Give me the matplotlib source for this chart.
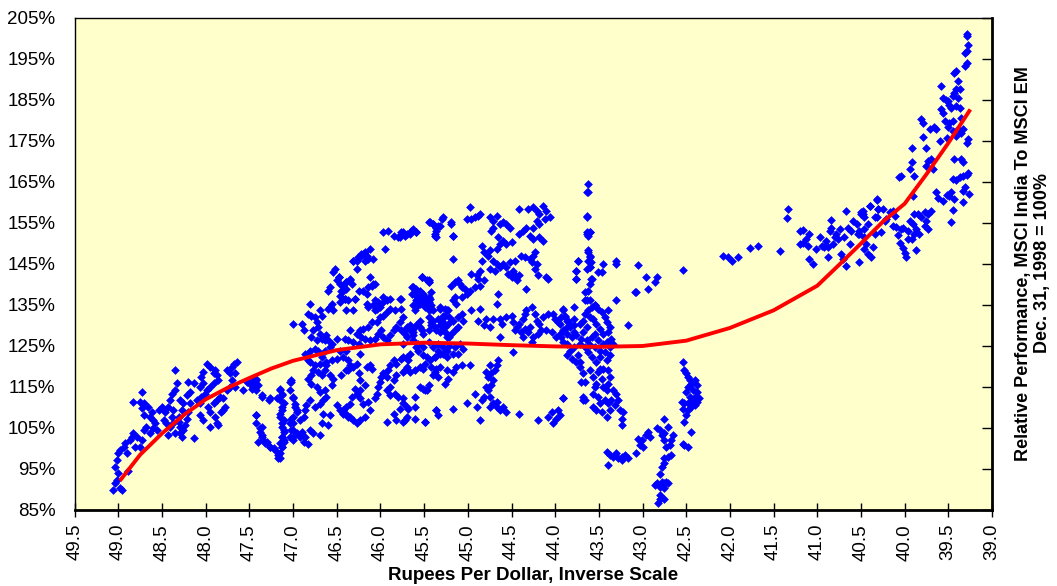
import numpy as np
import matplotlib
matplotlib.use("Agg")
import matplotlib.pyplot as plt
from matplotlib.ticker import FuncFormatter, MultipleLocator

plt.rcParams['font.family'] = ['Liberation Sans', 'DejaVu Sans']

# rupees per dollar vs relative performance (%)
pts_49_47 = [
  (49.06,89.9),(49.04,91.5),(48.98,90.3),(48.96,89.9),(49.02,92.3),(49.00,94.0),(49.04,95.6),
  (49.02,97.2),(49.00,98.8),(48.98,99.6),(48.94,100.4),(48.90,98.8),(48.89,94.4),(48.92,101.3),
  (48.87,102.1),(48.85,102.9),(48.83,103.7),(48.79,102.9),(48.81,100.4),(48.75,100.4),(48.73,102.1),
  (48.71,104.5),(48.68,105.3),(48.64,103.7),(48.60,104.9),(48.58,106.1),(48.56,104.5),(48.64,107.7),
  (48.71,108.2),(48.73,109.8),(48.71,111.0),(48.66,110.2),(48.62,109.0),(48.60,106.9),(48.83,111.4),
  (48.75,111.4),(48.73,113.8),(48.54,109.4),(48.50,110.2),(48.47,109.0),(48.48,106.9),(48.45,106.1),
  (48.43,103.3),(48.41,105.3),(48.39,107.7),(48.43,110.2),(48.41,111.8),(48.39,113.4),(48.35,114.2),
  (48.33,115.9),(48.35,119.1),(48.29,111.8),(48.26,111.0),(48.27,109.4),(48.31,107.7),(48.29,105.3),
  (48.26,104.5),(48.24,105.7),(48.22,107.3),(48.27,102.9),(48.29,103.7),(48.35,103.7),(48.37,106.1),
  (48.31,106.5),(48.37,109.4),(48.20,109.0),(48.18,111.0),(48.22,113.0),(48.18,113.8),(48.20,116.3),
  (48.14,115.9),(48.14,102.5),(48.10,111.8),(48.07,111.0),(48.05,112.6),(48.07,115.0),(48.03,115.9),
  (48.05,117.5),(48.03,118.7),(47.99,120.7),(47.95,119.9),(47.91,118.3),(47.89,119.1),(47.87,117.9),
  (47.86,116.7),(47.91,115.9),(47.95,115.0),(47.99,114.2),(48.01,113.4),(48.07,108.2),(48.03,106.9),
  (47.97,110.2),(47.95,109.0),(47.91,111.0),(47.87,111.8),(47.84,112.6),(47.80,112.2),(47.78,110.2),
  (47.82,109.0),(47.89,107.7),(47.87,106.1),(47.95,105.3),(47.86,105.7),(47.80,109.4),(47.76,119.1),
  (47.72,118.3),(47.70,119.9),(47.68,120.7),(47.64,121.1),(47.66,118.3),(47.70,116.7),(47.72,115.0),
  (47.76,114.2),(47.66,115.0),(47.57,114.2),(47.53,116.3),(47.49,116.7),(47.45,115.9),(47.43,114.2),
  (47.42,116.7),(47.40,115.4),(47.36,113.0),(47.42,108.2),(47.38,104.9),(47.36,103.3),(47.34,102.1),
  (47.32,101.3),(47.30,101.7),(47.26,100.4),(47.22,100.0),(47.17,98.4),(47.15,97.6),(47.13,100.4),
  (47.28,111.8),(47.19,112.2),(47.15,114.2),(47.13,113.4),(47.11,111.0),(47.13,109.4),(47.15,107.7),
  (47.13,106.1),(47.11,104.5),(47.13,102.9),(47.11,102.1),(47.15,101.3),(47.02,116.3),(47.00,112.2),
  (46.98,110.2),(46.96,109.0),(47.02,107.3),(47.00,106.1),(47.03,104.5),(47.00,102.9),
]

pts_47_45 = [
  (46.27,145.8),(46.24,146.6),(46.20,147.4),(46.16,147.0),(46.14,146.2),(46.18,145.8),(46.31,145.8),
  (46.52,143.8),(46.54,143.0),(46.48,141.8),(46.50,141.0),(46.46,140.2),(46.43,139.7),(46.39,140.6),
  (46.35,141.4),(46.33,140.2),(46.39,138.9),(46.45,138.5),(46.46,137.3),(46.41,136.5),(46.37,136.1),
  (46.58,139.3),(46.60,138.5),(46.56,135.3),(46.58,134.5),(46.54,133.7),(46.60,134.1),(46.46,135.7),
  (46.29,136.5),(46.25,138.5),(46.16,137.7),(46.06,140.2),(46.10,139.7),(46.16,135.3),(46.14,134.5),
  (46.08,134.9),(46.04,134.1),(46.03,135.7),(46.06,136.1),(45.97,136.9),(45.93,136.1),(45.89,136.5),
  (45.83,133.7),(45.93,133.3),(45.97,132.4),(46.01,132.0),(46.04,130.8),(46.10,130.8),(46.14,129.6),
  (46.20,129.2),(46.24,128.8),(46.27,128.0),(46.35,128.8),(46.37,126.4),(46.31,126.0),(46.25,125.5),
  (46.22,127.2),(46.18,126.8),(46.12,126.4),(46.06,126.8),(46.03,128.0),(45.99,128.8),(45.97,127.2),
  (45.93,126.4),(45.89,127.6),(45.85,128.8),(45.82,129.6),(45.76,128.8),(45.72,128.0),(45.70,129.6),
  (45.66,128.8),(45.63,129.2),(45.59,130.0),(45.55,131.2),(45.53,128.8),(45.51,128.0),(45.63,127.6),
  (45.74,132.0),(45.78,130.8),(45.44,132.0),(45.42,130.8),(45.38,129.6),(45.36,128.8),(45.32,130.0),
  (45.30,131.2),(45.26,132.4),(45.24,133.7),(45.32,134.1),(45.28,128.8),(45.24,128.0),(45.22,127.2),
  (45.51,136.1),(45.49,135.3),(45.45,136.9),(45.44,135.7),(45.42,134.1),(45.47,134.5),(45.53,137.7),
  (45.55,136.5),(45.59,137.3),(45.63,139.3),(45.53,141.8),(45.45,140.6),(45.42,138.1),(45.57,134.9),
  (46.81,135.3),(46.83,132.9),(46.79,132.4),(46.75,132.0),(46.73,130.8),(46.71,129.6),(46.77,128.8),
  (46.79,127.2),(46.73,126.4),(46.69,128.0),(46.67,126.8),(46.62,127.6),(46.60,126.4),(46.58,124.7),
  (46.64,123.9),(46.67,122.3),(46.71,123.9),(46.75,124.3),(46.81,123.9),(46.83,121.5),(46.86,123.1),
  (46.88,128.8),(47.00,130.4),(46.90,130.4),(46.69,133.7),(46.67,132.4),(46.64,126.4),(46.56,125.5),
  (46.50,126.8),(46.41,126.8),(46.46,123.9),(46.39,123.9),(46.43,122.3),(46.37,121.5),(46.35,120.3),
  (46.37,119.1),(46.31,119.9),(46.27,120.7),(46.24,123.1),(46.25,118.3),(46.16,119.9),(46.12,120.3),
  (46.10,119.5),(46.24,116.6),(46.18,115.4),(46.24,114.2),(46.27,113.4),(46.33,112.6),(46.35,110.9),
  (46.39,110.1),(46.43,109.3),(46.39,108.5),(46.35,107.7),(46.31,106.9),(46.27,106.1),(46.24,106.9),
  (46.18,107.7),(46.12,109.3),(46.14,111.4),(46.20,110.9),(46.06,112.2),(46.04,113.4),(46.03,115.0),
  (46.01,116.2),(45.99,117.4),(45.97,118.3),(45.93,117.4),(45.91,119.1),(45.89,120.3),(45.85,121.5),
  (45.82,120.7),(45.76,121.9),(45.70,122.3),(45.66,123.1),(45.70,119.9),(45.74,118.7),(45.82,117.9),
  (45.85,116.6),(45.89,115.0),(45.93,114.2),(45.89,113.0),(45.83,113.4),(45.80,112.6),(45.74,112.2),
  (45.70,110.1),(45.78,109.7),(45.85,108.5),(45.82,106.9),(45.74,106.5),(45.93,106.5),(45.70,107.7),
  (45.61,107.3),(45.49,106.5),(45.61,112.6),(45.55,115.0),(45.49,114.2),(45.44,115.4),(45.51,119.5),
  (45.42,119.9),(45.36,119.5),(45.34,117.4),(45.36,109.3),(45.34,108.1),(45.59,124.7),(45.57,123.9),
  (45.51,122.7),(45.47,122.3),(45.38,122.3),(45.34,123.9),(45.28,123.1),(45.24,122.3),(47.04,114.2),
  (47.04,116.2),(47.15,114.6),(47.13,113.0),(47.15,111.8),(47.13,110.1),(47.15,108.5),(47.11,106.9),
  (47.13,105.3),(47.11,104.1),(47.13,102.8),(47.11,101.6),(47.13,100.4),(47.15,98.8),(47.17,97.6),
  (47.21,99.6),(47.26,100.4),(47.32,101.6),(47.36,102.8),(47.38,104.1),(47.36,105.3),(47.42,106.1),
  (47.40,101.6),(47.42,108.1),(47.36,112.6),(47.26,112.2),(47.00,112.6),(46.98,110.9),(46.96,109.3),
  (47.00,107.7),(47.04,106.1),(47.00,104.5),(47.04,102.8),(47.00,102.0),(46.96,103.7),(46.92,102.8),
  (46.90,104.1),(46.86,102.8),(46.83,101.2),(46.88,101.6),(46.92,106.9),(46.88,107.7),(46.86,109.3),
  (46.85,110.5),(46.81,111.8),(46.75,110.1),(46.69,110.9),(46.66,111.8),(46.62,112.6),(46.64,114.2),
  (46.69,113.8),(46.73,115.0),(46.79,115.8),(46.83,117.0),(46.79,117.9),(46.77,119.1),(46.71,118.7),
  (46.67,117.9),(46.56,115.4),(46.66,108.5),(46.58,108.1),(46.67,106.1),(46.60,105.7),(46.69,103.3),
  (46.77,103.7),(46.81,104.5),(46.50,110.5),(46.46,109.3),(46.43,108.5),(46.37,107.7),(46.29,114.6),
  (46.24,112.2),(46.45,117.9),(46.39,119.1),(46.54,117.0),(46.58,117.9),(47.49,115.8),(47.46,116.6),
  (47.42,117.0),(47.44,115.4),(47.47,114.6),(47.02,116.6),(46.81,121.1),(46.75,120.3),(46.69,120.7),
  (46.62,121.1),(46.56,121.5),(46.50,121.9),(46.62,120.3),(46.64,119.1),
  (45.97,152.7),(45.91,153.1),(45.85,151.9),(45.80,151.5),(45.76,152.7),(45.72,151.9),(45.66,152.3),
  (45.65,153.1),(45.59,152.7),(45.44,155.2),(45.40,154.7),(45.34,154.3),(45.36,153.1),(45.38,151.9),
  (45.30,156.0),(45.19,154.7),(45.17,151.9),(45.95,148.7),(46.31,145.8),(46.26,146.6),(46.22,147.4),
  (46.18,147.9),(46.12,148.7),(46.16,146.2),(46.08,146.2),(46.27,143.8),(46.12,141.8),(46.08,140.2),
  (46.14,139.4),(46.35,141.0),(46.39,140.6),(46.47,141.8),(46.43,138.5),(46.41,136.5),(46.29,136.5),
  (46.20,138.5),(46.31,133.7),(46.39,133.7),(45.53,141.8),(45.45,141.0),(45.64,139.4),(45.59,138.1),
  (45.51,137.7),(45.45,136.5),(45.47,134.9),(45.53,135.7),(45.78,136.5),(45.76,134.1),(45.89,134.1),
  (45.97,135.7),(46.01,134.5),(46.06,133.7),
]

pts_45_43 = [
  (43.64,162.5),(43.64,156.8),(43.64,152.3),(43.60,152.7),(43.62,147.9),(43.60,146.6),(43.59,145.4),
  (43.60,144.2),(43.74,145.8),(43.76,143.4),(43.76,141.4),(43.59,141.4),(43.62,138.5),(43.66,136.1),
  (43.60,136.1),(43.55,134.9),(43.51,143.0),(44.98,158.8),(44.88,156.8),(44.92,156.4),(44.96,156.0),
  (45.01,156.0),(44.86,157.2),(45.28,156.4),(45.43,155.2),(45.40,154.8),(45.36,153.9),(45.32,154.3),
  (45.38,152.3),(45.36,151.5),(45.19,155.2),(45.17,151.9),(45.63,153.5),(45.59,152.7),(45.74,152.7),
  (45.70,152.3),(45.78,151.5),(44.42,158.4),(44.31,158.4),(44.25,158.8),(44.21,158.0),(44.18,157.2),
  (44.14,159.2),(44.10,158.0),(44.06,156.4),(44.12,156.0),(44.18,154.8),(44.21,155.6),(44.25,153.9),
  (44.33,153.9),(44.37,153.1),(44.41,152.3),(44.29,151.9),(44.25,151.1),(44.18,151.5),(44.14,150.7),
  (44.75,156.4),(44.71,155.6),(44.67,156.8),(44.63,154.8),(44.60,155.2),(44.56,154.8),(44.52,153.9),
  (44.71,153.9),(44.73,153.1),(44.65,151.5),(44.60,150.7),(44.56,149.9),(44.50,150.3),(44.63,149.9),
  (44.67,148.7),(44.84,149.5),(44.81,147.9),(44.77,147.0),(44.75,148.3),(44.84,145.8),(44.71,145.8),
  (44.67,145.0),(44.63,144.2),(44.69,143.4),(44.75,143.8),(44.60,145.0),(44.56,144.2),(44.54,142.6),
  (44.50,141.8),(44.46,142.2),(44.44,141.0),(44.42,142.2),(44.48,143.4),(44.52,145.4),(44.46,145.8),
  (44.39,147.0),(44.35,146.6),(44.29,146.2),(44.27,145.4),(44.25,147.0),(44.23,147.9),(44.21,145.0),
  (44.23,143.8),(44.20,142.2),(44.10,141.8),(44.08,141.4),(44.33,138.9),(44.86,143.4),(44.90,142.2),
  (44.96,142.6),(44.88,141.4),(44.92,139.3),(44.86,139.7),(44.82,141.0),(45.17,146.2),(45.19,139.7),
  (45.15,140.6),(45.11,141.0),(45.09,140.2),(45.07,139.3),(45.03,138.9),(45.01,137.7),(45.07,136.9),
  (45.15,136.9),(45.17,136.1),(45.13,135.3),(44.98,138.5),(44.67,135.3),(44.65,137.7),(45.53,141.8),
  (45.47,141.0),(45.45,140.6),(45.63,139.3),(45.59,138.9),(45.64,137.7),(45.55,138.5),(45.57,136.9),
  (45.51,137.3),(45.47,136.1),(45.43,136.5),(45.42,134.9),(45.49,134.5),(45.55,135.3),(45.59,136.1),
  (45.63,134.9),(45.61,133.7),(45.45,133.7),(45.40,133.7),(45.76,136.5),(45.32,134.5),(45.26,134.1),
  (45.23,133.7),(45.21,132.0),(45.28,132.4),(45.34,131.6),(45.30,130.8),(45.26,129.6),(45.23,130.4),
  (45.17,131.2),(45.11,132.0),(45.07,132.9),(45.05,131.2),(45.11,129.6),(45.15,128.8),(45.19,128.0),
  (45.24,127.2),(45.32,128.4),(45.40,131.2),(45.42,130.0),(45.45,128.8),(45.55,129.6),(45.63,128.4),
  (45.66,130.0),(45.72,128.8),(45.70,127.2),(45.74,125.5),(45.63,126.4),(45.57,125.5),(45.51,124.7),
  (45.45,126.0),(45.40,124.7),(45.34,125.5),(45.28,124.7),(45.21,125.1),(45.15,124.7),(45.09,125.5),
  (45.05,124.3),(45.11,123.1),(45.17,123.1),(45.24,123.9),(45.32,123.1),(45.38,122.3),(45.43,121.5),
  (45.49,120.7),(45.55,119.9),(45.61,119.1),(45.66,118.7),(45.72,119.1),(45.68,121.5),(45.74,122.3),
  (45.32,119.9),(45.38,118.7),(45.24,119.1),(45.17,118.7),(45.13,119.9),(45.07,120.3),(44.98,120.3),
  (45.40,117.9),(45.23,117.0),(45.26,115.8),(45.74,111.0),(45.68,109.7),(45.61,110.1),(45.72,106.9),
  (45.36,109.3),(45.17,109.7),(45.49,106.5),(45.47,114.2),(45.51,114.6),(45.01,111.0),(44.92,113.4),
  (44.84,111.8),(44.90,110.1),(44.81,112.6),(44.77,114.2),(44.73,115.4),(44.71,116.6),(44.73,118.3),
  (44.69,119.1),(44.67,120.3),(44.65,121.5),(44.75,120.3),(44.79,118.7),(44.77,117.4),(44.79,115.0),
  (44.75,112.6),(44.71,111.0),(44.67,110.1),(44.63,109.3),(44.60,110.1),(44.67,111.4),(44.86,106.9),
  (44.75,110.1),(44.56,108.9),(44.42,108.5),(44.20,106.9),(44.08,107.7),(44.04,108.9),(44.02,106.1),
  (43.99,107.3),(43.97,109.3),(43.91,112.2),(43.70,116.2),(43.68,111.8),(43.72,121.1),(44.50,132.4),
  (44.48,130.8),(44.44,129.6),(44.46,128.8),(44.41,130.4),(44.37,131.6),(44.35,132.9),(44.33,133.7),
  (44.27,134.5),(44.23,132.9),(44.21,131.2),(44.18,130.4),(44.14,132.0),(44.08,132.9),(44.02,132.9),
  (44.00,131.6),(43.97,130.8),(43.93,132.0),(43.89,132.4),(43.87,131.2),(43.83,130.4),(43.79,131.6),
  (43.87,129.6),(43.91,128.8),(43.95,128.0),(43.99,127.2),(44.04,128.4),(44.10,128.8),(44.16,128.8),
  (44.20,128.0),(44.25,127.2),(44.31,128.4),(44.35,129.2),(44.39,128.4),(44.37,127.2),(44.29,129.6),
  (44.27,126.0),(44.48,123.5),(44.63,127.2),(44.96,133.7),(44.86,134.1),(44.81,130.0),(44.75,129.6),
  (44.71,131.6),(44.63,131.6),(44.56,132.0),(44.61,130.4),(44.79,131.6),(44.88,131.2),(43.79,134.5),
  (43.91,134.1),
]

pts_44_42 = [
  (43.62,164.5),(43.62,162.5),(43.64,156.4),(43.64,152.7),(43.60,152.7),(43.62,151.9),(43.62,148.3),
  (43.60,147.0),(43.62,145.8),(43.60,144.2),(43.64,143.8),(43.58,141.4),(43.60,140.2),(43.66,138.1),
  (43.64,136.1),(43.74,145.8),(43.76,143.4),(43.76,141.4),(43.45,145.0),(43.47,143.0),(43.30,145.8),
  (43.30,145.0),(43.05,144.8),(42.96,141.8),(42.84,141.8),(42.86,140.6),(42.94,138.9),(43.07,138.1),
  (43.09,138.1),(42.54,143.6),(43.30,136.3),(43.39,133.8),(43.17,130.0),
  (43.91,133.7),(43.89,132.0),(43.95,130.4),(43.85,131.2),(43.83,129.6),(43.79,130.0),(43.78,128.4),
  (43.87,128.0),(43.81,127.2),(43.76,127.6),(43.72,130.4),(43.68,131.2),(43.66,132.9),(43.62,133.7),
  (43.58,134.5),(43.55,134.9),(43.51,134.1),(43.47,133.3),(43.43,132.0),(43.41,130.8),(43.37,129.6),
  (43.39,128.4),(43.45,128.0),(43.49,129.2),(43.53,130.4),(43.57,131.6),(43.60,132.0),(43.64,129.6),
  (43.68,128.4),(43.70,126.8),(43.64,126.4),(43.58,127.2),(43.55,128.0),(43.51,126.4),(43.45,125.6),
  (43.41,126.0),(43.36,126.8),(43.37,124.7),(43.43,123.5),(43.49,123.9),(43.55,124.7),(43.60,125.2),
  (43.66,124.7),(43.72,125.6),(43.78,124.7),(43.83,123.9),(43.87,122.7),(43.81,121.9),(43.76,121.1),
  (43.72,119.9),(43.68,118.3),(43.66,116.2),(43.60,119.1),(43.57,117.4),(43.55,115.0),(43.53,115.8),
  (43.57,113.4),(43.51,112.6),(43.49,111.0),(43.57,110.2),(43.53,109.3),(43.47,108.9),(43.41,107.7),
  (43.37,109.3),(43.39,111.0),(43.43,111.8),(43.41,114.2),(43.45,115.0),(43.47,117.0),(43.51,118.7),
  (43.45,119.5),(43.39,119.1),(43.37,117.4),(43.39,115.8),(43.34,114.2),(43.30,113.4),(43.28,111.8),
  (43.32,110.6),(43.26,109.3),(43.24,107.3),(43.22,108.9),(43.24,105.7),(43.36,111.8),(43.68,112.6),
  (43.66,111.8),(43.91,112.2),(43.95,108.1),(43.58,122.3),(43.53,121.1),(43.49,122.3),(43.41,121.5),
  (43.37,122.7),(43.62,123.5),(43.74,122.7),(43.34,125.6),(43.49,119.5),(43.93,127.2),(43.91,126.0),
  (43.87,125.6),
  (43.41,99.2),(43.37,98.4),(43.34,98.0),(43.30,98.8),(43.28,97.6),(43.24,98.0),(43.20,98.4),
  (43.17,97.6),(43.39,96.0),(43.24,97.2),(43.07,98.8),(43.03,100.8),(43.01,102.0),(43.05,102.4),
  (42.99,100.4),(42.96,103.3),(42.92,102.8),(42.94,104.1),(42.84,104.9),(42.80,104.5),(42.78,103.3),
  (42.76,103.7),(42.75,102.0),(42.73,100.4),(42.69,100.8),(42.67,102.0),(42.65,103.3),(42.75,107.3),
  (42.71,105.3),(42.76,97.6),(42.71,98.0),(42.67,98.4),(42.75,96.4),(42.78,95.6),(42.80,93.9),
  (42.78,91.9),(42.84,91.5),(42.86,91.1),(42.80,90.7),(42.76,91.5),(42.73,91.9),(42.71,91.5),
  (42.76,90.3),(42.80,88.7),(42.82,86.6),(42.80,87.8),(42.76,87.8),
  (42.54,121.1),(42.52,119.1),(42.50,118.3),(42.48,117.4),(42.46,116.6),(42.44,115.8),(42.40,116.6),
  (42.38,115.4),(42.42,114.2),(42.48,115.0),(42.50,113.8),(42.46,112.6),(42.42,111.8),(42.38,111.4),
  (42.35,112.2),(42.40,110.6),(42.44,110.2),(42.48,109.3),(42.52,111.0),(42.55,111.4),(42.54,109.7),
  (42.50,108.1),(42.52,106.5),(42.44,104.1),(42.54,101.2),(42.52,100.8),(42.48,100.4),(42.38,113.8),
  (42.44,111.4),(42.48,111.0),(42.40,112.6),
]

pts_42_39 = [
  (42.08,147.0),(42.02,146.6),(41.98,145.8),(41.91,146.8),(41.77,148.9),(41.68,149.5),(41.43,148.1),
  (41.34,158.3),(41.35,156.2),(41.20,153.1),(41.16,153.3),(41.09,152.3),(41.20,149.9),(41.13,151.1),
  (41.11,149.5),(41.16,150.1),(41.09,146.2),(41.05,144.9),(41.01,148.7),(40.97,151.5),(40.95,149.5),
  (40.92,149.1),(40.90,150.7),(40.88,149.1),(40.86,153.1),(40.84,155.7),(40.88,146.6),(40.84,153.9),
  (40.82,149.9),(40.80,151.5),(40.78,152.3),(40.76,151.1),(40.74,153.5),(40.73,147.5),(40.71,146.2),
  (40.69,151.5),(40.67,158.0),(40.67,144.6),(40.65,153.9),(40.63,149.9),(40.61,153.1),(40.59,155.6),
  (40.55,154.8),(40.53,152.3),(40.52,153.1),(40.50,157.6),(40.48,157.2),(40.46,151.5),(40.44,149.9),
  (40.40,159.2),(40.42,147.5),(40.38,146.6),(40.36,149.1),(40.34,152.3),(40.32,160.8),(40.32,156.4),
  (40.31,158.4),(40.52,145.4),(40.46,148.7),
  (39.29,201.1),(39.29,200.6),(39.28,198.4),(39.29,196.9),(39.31,196.5),(39.29,194.1),(39.31,193.3),
  (39.41,192.1),(39.43,191.7),(39.39,189.6),(39.58,188.4),(39.56,185.6),(39.53,184.9),(39.50,184.8),
  (39.41,187.6),(39.37,187.8),(39.43,186.8),(39.45,186.0),(39.39,185.6),(39.41,183.5),(39.37,183.0),
  (39.49,183.9),(39.47,183.1),(39.58,182.7),(39.56,181.9),(39.54,179.9),(39.49,179.5),(39.45,179.9),
  (39.35,180.7),(39.50,178.3),(39.45,177.5),(39.41,176.2),(39.39,177.9),(39.35,177.0),(39.33,177.9),
  (39.52,175.8),(39.60,175.0),(39.29,174.6),(39.28,175.4),(39.81,180.3),(39.79,179.5),(39.71,177.9),
  (39.66,178.4),(39.64,177.9),(39.79,176.0),(39.75,173.4),(39.92,173.4),(39.92,169.8),(39.94,168.1),
  (39.89,166.5),(40.04,166.5),(40.06,166.3),(39.75,168.9),(39.73,170.2),(39.70,170.6),(39.68,168.1),
  (39.43,170.6),(39.35,170.6),(39.33,169.8),(39.45,165.7),(39.41,165.5),(39.37,166.1),(39.33,166.5),
  (39.29,166.7),(39.28,167.1),(39.31,163.7),(39.33,162.9),(39.26,162.1),(39.64,162.5),(39.62,161.2),
  (39.56,160.4),(39.52,161.9),(39.49,161.6),(39.47,162.5),(39.43,160.8),(39.33,160.0),(39.45,158.2),
  (39.47,155.3),(39.90,161.5),(40.32,160.7),(40.40,159.2),(40.31,158.4),(40.25,158.4),(40.21,156.0),
  (40.17,157.6),(40.13,158.0),(40.11,156.8),(40.13,154.3),(40.10,154.1),(40.04,153.5),(40.02,153.9),
  (39.96,153.1),(39.94,155.6),(39.90,154.7),(39.89,157.2),(39.85,157.2),(39.81,156.4),(39.77,157.6),
  (39.73,157.2),(39.70,158.0),(39.75,155.6),(39.77,154.3),(39.73,153.5),(39.87,153.5),(39.83,152.3),
  (39.89,152.3),(40.48,158.0),(40.50,157.2),(40.46,156.4),(40.42,154.7),(40.46,153.5),(40.52,152.3),
  (40.34,156.4),(40.23,155.6),(40.27,152.7),(39.96,151.1),(39.92,151.1),(39.98,146.6),(39.87,148.3),
  (40.05,150.0),(40.02,148.8),(40.08,152.0),(40.00,147.8),
]

# polynomial trend line
trend_x = [48.97, 48.75, 48.5, 48.25, 48.0, 47.75, 47.5, 47.25, 47.0, 46.5, 46.0, 45.5,
           45.0, 44.5, 44.0, 43.5, 43.0, 42.5, 42.0, 41.5, 41.0, 40.75, 40.5, 40.25,
           40.0, 39.75, 39.5, 39.26]
trend_y = [92.5, 98.5, 103.7, 108.2, 112.0, 114.8, 117.2, 119.5, 121.4, 124.0, 125.4, 125.8,
           125.6, 125.2, 124.9, 124.8, 125.0, 126.3, 129.4, 133.7, 139.7, 144.8, 150.0, 155.3,
           159.7, 166.9, 174.5, 182.3]

x_ticks = np.arange(39.0, 49.51, 0.5)
y_ticks = np.arange(85, 206, 10)

fig = plt.figure(figsize=(10.57, 5.86), dpi=100)
ax = fig.add_axes([0.0707, 0.1297, 0.8678, 0.8396])
ax.set_facecolor('#FFFFCC')

for pts in [pts_49_47, pts_47_45, pts_45_43, pts_44_42, pts_42_39]:
  px, py = np.array(pts).T
  ax.scatter(px, py, marker='D', s=20, color='#0000FF', linewidths=0, zorder=2)

ax.plot(trend_x, trend_y, color='#FF0000', lw=2.8, zorder=3)

ax.set_xlim(49.5, 39.0)
ax.set_ylim(85, 205)
ax.set_xticks(x_ticks)
ax.set_yticks(y_ticks)
ax.xaxis.set_major_formatter(FuncFormatter(lambda v, p: '%.1f' % v))
ax.yaxis.set_major_formatter(FuncFormatter(lambda v, p: '%d%%' % v))
ax.tick_params(axis='x', direction='inout', length=10, width=1, labelsize=13.5,
               labelrotation=90, pad=5)
ax.tick_params(axis='y', left=False, right=True, labelleft=True, labelright=False,
               direction='in', length=7, width=1, labelsize=13.5, pad=14)

for s in ['left', 'top']:
  ax.spines[s].set_linewidth(1.0)
for s in ['bottom', 'right']:
  ax.spines[s].set_linewidth(2.0)

ax.set_xlabel('Rupees Per Dollar, Inverse Scale', fontsize=13.5, fontweight='bold', labelpad=5)
fig.text(0.977, 0.551, 'Relative Performance, MSCI India To MSCI EM\nDec. 31, 1998 = 100%',
         rotation=90, ha='center', va='center', fontsize=13, fontweight='bold',
         multialignment='center', linespacing=1.15)

fig.savefig('out.png', dpi=100)
